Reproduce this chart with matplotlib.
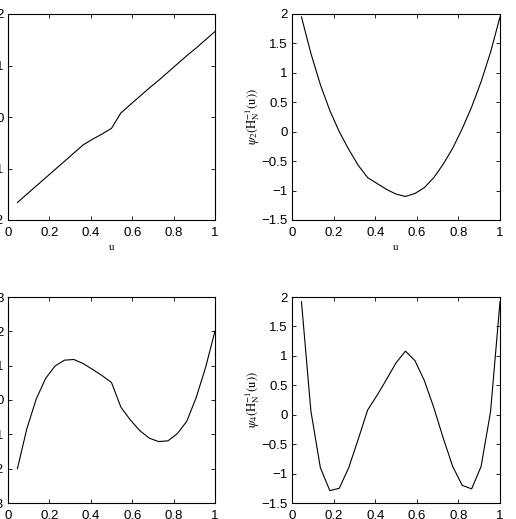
import numpy as np
import matplotlib
matplotlib.use("Agg")
import matplotlib.pyplot as plt

u = np.arange(1, 23) / 22.0

psi1 = [-1.66, -1.50, -1.34, -1.18, -1.02, -0.86, -0.70, -0.54, -0.43, -0.33, -0.22,
        0.08, 0.24, 0.40, 0.56, 0.71, 0.87, 1.03, 1.19, 1.34, 1.50, 1.66]
psi2 = [1.95, 1.33, 0.80, 0.36, 0.00, -0.30, -0.57, -0.78, -0.88, -0.98, -1.06,
        -1.10, -1.05, -0.95, -0.78, -0.55, -0.28, 0.05, 0.42, 0.85, 1.35, 1.95]
psi3 = [-2.00, -0.84, 0.03, 0.63, 0.99, 1.16, 1.18, 1.06, 0.89, 0.71, 0.51,
        -0.21, -0.58, -0.89, -1.11, -1.21, -1.19, -0.98, -0.62, 0.07, 0.95, 2.01]
psi4 = [1.92, 0.06, -0.90, -1.29, -1.25, -0.90, -0.42, 0.08, 0.33, 0.60, 0.88,
        1.08, 0.92, 0.58, 0.12, -0.40, -0.88, -1.20, -1.26, -0.88, 0.05, 1.92]

xticks = [0, 0.2, 0.4, 0.6, 0.8, 1]
xtick_labels = ["0", "0.2", "0.4", "0.6", "0.8", "1"]

plt.rcParams["font.family"] = "Liberation Sans"
plt.rcParams["mathtext.fontset"] = "stix"

fig = plt.figure(figsize=(5.16, 5.19), dpi=100)
W, H = 516.0, 519.0


def make_axes(left, top, right, bottom):
    return fig.add_axes([left / W, 1 - bottom / H, (right - left) / W, (bottom - top) / H])


panels = [
    (make_axes(8, 14, 215, 220), psi1, (-2, 2), [-2, -1, 0, 1, 2], ["\u22122", "\u22121", "0", "1", "2"], None, True),
    (make_axes(292, 14, 500, 220), psi2, (-1.5, 2), [-1.5, -1, -0.5, 0, 0.5, 1, 1.5, 2],
     ["\u22121.5", "\u22121", "\u22120.5", "0", "0.5", "1", "1.5", "2"],
     r"$\psi_2(\mathrm{H}_\mathrm{N}^{-1}(\mathrm{u}))$", True),
    (make_axes(8, 297, 215, 503), psi3, (-3, 3), [-3, -2, -1, 0, 1, 2, 3],
     ["\u22123", "\u22122", "\u22121", "0", "1", "2", "3"], None, False),
    (make_axes(292, 297, 500, 503), psi4, (-1.5, 2), [-1.5, -1, -0.5, 0, 0.5, 1, 1.5, 2],
     ["\u22121.5", "\u22121", "\u22120.5", "0", "0.5", "1", "1.5", "2"],
     r"$\psi_4(\mathrm{H}_\mathrm{N}^{-1}(\mathrm{u}))$", False),
]

for ax, vals, ylim, yt, ytl, ylab, show_x in panels:
    ax.plot(u, vals, color="black", linewidth=0.8)
    ax.set_xlim(0, 1)
    ax.set_ylim(*ylim)
    ax.set_xticks(xticks)
    ax.set_xticklabels(xtick_labels)
    ax.set_yticks(yt)
    ax.set_yticklabels(ytl)
    ax.tick_params(direction="in", top=True, right=True, length=3, width=0.6,
                   labelsize=9.5)
    ax.tick_params(axis="x", pad=5)
    ax.tick_params(axis="y", pad=3)
    for s in ax.spines.values():
        s.set_linewidth(0.8)
    if ylab:
        ax.set_ylabel(ylab, fontsize=9, labelpad=0)
    if show_x:
        ax.set_xlabel("u", fontsize=8, family="Liberation Serif", labelpad=3)

fig.savefig("out.png", dpi=100)
